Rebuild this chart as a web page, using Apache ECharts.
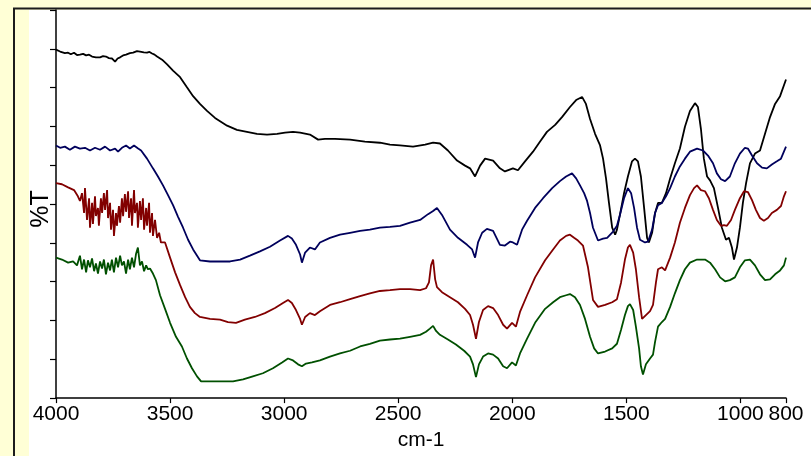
<!DOCTYPE html>
<html><head><meta charset="utf-8">
<script src="https://cdn.jsdelivr.net/npm/echarts@6/dist/echarts.min.js"></script>
<style>html,body{margin:0;padding:0;background:#ffffd6}#c{width:811px;height:456px}</style>
</head><body><div id="c"></div><script>
const xTicks = [4000, 3500, 3000, 2500, 2000, 1500, 1000, 800];
const xName = 'cm-1';
const yName = '%T';

const blackData = [[4000,89.8],[3982,89.3],[3974,89.5],[3961,88.9],[3947,89.0],[3935,88.6],[3921,89.0],[3908,88.4],[3895,88.5],[3881,88.7],[3868,88.3],[3855,88.5],[3842,88.0],[3825,87.8],[3807,87.8],[3794,88.1],[3781,88.0],[3768,87.6],[3754,87.5],[3741,86.7],[3730,87.5],[3719,87.8],[3706,88.3],[3693,88.5],[3676,88.9],[3662,89.0],[3645,89.4],[3632,89.3],[3615,89.1],[3601,89.0],[3590,89.2],[3579,88.8],[3568,88.5],[3557,88.0],[3535,87.2],[3513,86.0],[3487,84.4],[3456,82.7],[3426,80.1],[3399,77.8],[3369,75.8],[3338,74.0],[3303,72.2],[3250,70.2],[3207,69.1],[3163,68.6],[3119,68.1],[3075,67.9],[3031,68.1],[2996,68.4],[2961,68.6],[2930,68.4],[2887,67.9],[2851,66.6],[2821,66.8],[2777,66.8],[2711,66.6],[2646,66.1],[2580,65.8],[2536,65.3],[2492,65.1],[2435,64.8],[2382,65.3],[2347,65.8],[2317,65.6],[2282,63.8],[2242,61.2],[2207,59.9],[2185,59.2],[2163,57.1],[2141,59.9],[2119,61.7],[2084,61.2],[2054,59.2],[2032,58.4],[1997,59.2],[1975,58.7],[1944,61.0],[1909,63.5],[1878,66.1],[1848,68.6],[1812,70.4],[1782,72.4],[1747,75.0],[1720,76.8],[1694,77.6],[1677,75.8],[1659,71.9],[1637,68.1],[1615,65.1],[1602,61.7],[1589,56.6],[1576,50.3],[1562,43.9],[1549,42.1],[1541,43.4],[1528,47.2],[1510,52.8],[1493,57.1],[1475,61.0],[1462,61.7],[1449,61.0],[1436,57.1],[1422,49.0],[1409,41.3],[1401,40.1],[1387,42.6],[1374,47.7],[1361,50.3],[1344,50.3],[1326,52.8],[1308,56.6],[1287,60.5],[1265,64.3],[1243,69.9],[1221,74.0],[1199,76.0],[1186,75.0],[1173,69.4],[1160,61.7],[1146,57.1],[1133,56.1],[1116,54.1],[1098,49.0],[1081,43.9],[1063,40.8],[1050,41.3],[1037,38.8],[1028,35.7],[1015,38.8],[1002,43.9],[989,50.3],[975,55.4],[958,60.5],[936,63.0],[914,63.8],[892,68.1],[870,72.4],[848,75.8],[826,77.8],[800,82.1]];

const blueData = [[4000,65.1],[3982,64.5],[3961,64.8],[3939,64.0],[3917,64.8],[3895,64.3],[3873,64.5],[3851,63.8],[3829,64.5],[3807,64.0],[3785,64.8],[3763,63.8],[3741,64.3],[3728,63.5],[3711,64.5],[3693,65.1],[3676,64.3],[3658,65.1],[3640,64.3],[3627,63.8],[3601,61.7],[3575,59.2],[3553,57.1],[3531,54.8],[3509,52.3],[3487,49.7],[3465,46.7],[3443,43.9],[3421,40.8],[3399,38.3],[3369,35.5],[3325,35.2],[3281,35.2],[3237,35.2],[3193,35.7],[3150,36.7],[3106,37.8],[3062,39.0],[3018,40.6],[2983,41.8],[2966,41.1],[2948,39.5],[2930,37.0],[2922,34.9],[2908,37.5],[2887,38.8],[2865,38.3],[2843,40.1],[2799,41.3],[2755,42.1],[2711,42.6],[2667,43.1],[2624,43.4],[2580,43.9],[2536,44.1],[2492,44.4],[2448,45.2],[2404,45.9],[2369,47.4],[2347,48.2],[2330,49.0],[2308,47.2],[2273,43.4],[2238,41.3],[2198,39.5],[2176,38.3],[2163,36.2],[2150,40.1],[2132,42.6],[2111,43.6],[2084,43.1],[2054,39.5],[2032,39.3],[2010,40.3],[1997,40.1],[1979,39.5],[1957,43.4],[1935,45.7],[1900,49.0],[1865,51.5],[1825,54.1],[1791,55.9],[1764,57.1],[1738,57.9],[1720,56.6],[1703,54.8],[1685,52.8],[1672,50.8],[1659,47.7],[1646,43.9],[1624,40.6],[1602,41.1],[1584,41.3],[1558,42.9],[1541,44.4],[1528,47.2],[1510,51.5],[1493,54.1],[1479,52.8],[1466,49.0],[1453,43.9],[1440,40.8],[1418,40.1],[1405,40.3],[1387,43.4],[1374,47.7],[1361,49.7],[1344,50.3],[1326,52.0],[1308,54.1],[1287,57.1],[1265,59.7],[1243,61.7],[1221,63.5],[1190,64.3],[1164,63.8],[1142,62.5],[1120,60.5],[1103,57.9],[1085,56.4],[1067,55.9],[1046,57.1],[1024,60.5],[1002,63.0],[980,64.5],[967,64.3],[949,62.5],[927,60.5],[905,59.4],[884,59.2],[862,60.2],[840,61.0],[822,61.7],[800,64.8]];

const redData = [[4000,55.4],[3974,55.1],[3947,54.3],[3921,53.6],[3904,52.0],[3895,50.8],[3886,52.8],[3877,47.7],[3873,54.1],[3864,45.9],[3855,51.5],[3851,43.9],[3842,50.3],[3838,44.9],[3829,52.0],[3825,46.9],[3816,49.0],[3812,44.4],[3803,51.5],[3798,47.7],[3790,52.8],[3785,48.5],[3776,53.6],[3772,46.4],[3763,50.3],[3759,43.4],[3750,48.5],[3746,41.8],[3737,47.7],[3733,44.4],[3724,49.5],[3719,45.2],[3711,51.5],[3706,46.9],[3698,52.6],[3693,48.0],[3684,53.3],[3680,46.4],[3671,51.5],[3667,44.4],[3658,53.6],[3654,47.7],[3645,50.3],[3641,43.9],[3632,50.8],[3627,45.9],[3619,51.5],[3614,43.4],[3605,49.0],[3601,44.4],[3592,50.3],[3588,42.6],[3579,47.7],[3575,41.8],[3566,45.9],[3557,41.3],[3548,42.6],[3540,40.1],[3522,40.1],[3500,36.2],[3478,32.4],[3456,29.1],[3434,26.0],[3413,23.5],[3391,21.9],[3369,20.9],[3325,20.4],[3281,20.2],[3246,19.6],[3211,19.4],[3172,20.2],[3128,20.9],[3084,21.9],[3040,23.2],[3005,24.5],[2983,25.3],[2966,24.5],[2948,22.7],[2930,20.4],[2922,18.9],[2908,20.9],[2887,21.9],[2865,21.4],[2843,22.4],[2799,24.0],[2755,24.7],[2711,25.5],[2667,26.3],[2624,27.0],[2580,27.6],[2536,27.8],[2492,28.1],[2448,28.1],[2404,27.8],[2378,28.3],[2365,29.8],[2356,34.2],[2347,35.7],[2338,30.6],[2330,28.6],[2308,27.3],[2273,26.0],[2238,24.7],[2207,23.0],[2185,21.4],[2172,18.9],[2159,15.3],[2146,19.6],[2128,22.7],[2106,23.7],[2084,23.2],[2062,21.4],[2040,18.9],[2023,17.9],[2001,19.4],[1984,18.4],[1966,22.2],[1935,26.5],[1900,31.1],[1856,35.5],[1821,38.3],[1791,40.6],[1764,41.8],[1747,42.1],[1729,41.3],[1712,40.6],[1690,39.3],[1668,33.7],[1646,25.3],[1624,23.5],[1593,24.0],[1562,24.7],[1541,25.5],[1523,29.8],[1506,35.7],[1493,38.8],[1484,39.5],[1470,37.5],[1458,33.2],[1444,26.0],[1431,20.4],[1414,21.4],[1396,22.4],[1383,24.0],[1370,29.8],[1361,33.2],[1344,33.7],[1330,32.9],[1308,36.2],[1287,40.1],[1265,45.2],[1243,49.0],[1221,52.3],[1203,54.1],[1190,54.8],[1173,53.6],[1155,53.3],[1138,51.5],[1120,48.5],[1103,45.9],[1085,44.4],[1072,44.6],[1059,44.4],[1041,45.9],[1024,48.5],[1002,51.5],[984,53.3],[967,53.1],[949,51.0],[932,48.5],[914,46.4],[897,45.7],[879,46.4],[862,47.7],[840,48.5],[822,49.5],[809,52.0],[800,53.3]];

const greenData = [[4000,36.2],[3974,35.7],[3947,34.9],[3925,35.2],[3908,34.2],[3895,36.7],[3886,33.2],[3877,35.7],[3868,32.4],[3860,35.5],[3851,33.7],[3842,36.0],[3833,32.7],[3825,34.7],[3816,32.1],[3807,35.2],[3798,33.4],[3790,35.7],[3781,31.9],[3772,34.9],[3763,32.9],[3755,35.7],[3746,32.4],[3737,36.2],[3728,33.7],[3719,36.7],[3711,34.2],[3702,35.2],[3693,32.1],[3684,35.7],[3676,33.2],[3667,36.2],[3658,33.7],[3649,37.2],[3641,38.8],[3632,34.2],[3623,35.2],[3614,32.7],[3605,34.2],[3597,33.2],[3588,33.4],[3575,32.1],[3562,30.4],[3544,26.5],[3522,23.0],[3500,19.4],[3474,15.8],[3448,13.3],[3426,10.2],[3404,7.7],[3382,5.6],[3364,4.3],[3325,4.3],[3281,4.3],[3224,4.3],[3180,4.8],[3137,5.6],[3093,6.4],[3049,7.7],[3009,9.2],[2983,10.2],[2961,9.7],[2939,8.7],[2922,8.2],[2904,8.9],[2878,9.2],[2843,9.7],[2799,10.7],[2755,11.5],[2711,12.2],[2667,13.3],[2624,14.0],[2580,14.8],[2536,15.1],[2492,15.3],[2448,15.8],[2404,16.3],[2378,17.1],[2361,17.9],[2347,18.6],[2334,17.3],[2317,16.3],[2282,15.1],[2247,13.8],[2211,12.2],[2185,10.7],[2172,8.7],[2159,5.4],[2146,8.7],[2128,10.7],[2106,11.5],[2084,11.2],[2062,10.2],[2040,8.2],[2023,7.7],[2001,9.2],[1984,8.4],[1966,11.5],[1935,15.3],[1900,19.4],[1856,23.0],[1821,24.7],[1791,26.0],[1764,26.5],[1747,26.8],[1725,26.0],[1703,24.0],[1681,20.4],[1659,15.8],[1641,12.8],[1624,11.5],[1593,12.0],[1562,12.8],[1541,14.0],[1523,17.6],[1506,21.4],[1493,23.7],[1484,24.2],[1470,22.7],[1458,18.4],[1444,12.8],[1436,8.2],[1427,6.1],[1414,8.7],[1396,10.2],[1383,11.2],[1374,14.5],[1361,18.4],[1344,19.6],[1330,20.4],[1308,23.5],[1287,27.0],[1265,30.4],[1243,33.2],[1221,34.9],[1190,35.7],[1155,35.7],[1133,34.9],[1111,33.2],[1089,31.1],[1067,30.1],[1046,30.4],[1024,31.1],[1002,33.7],[980,35.5],[958,35.7],[936,34.2],[914,31.9],[892,30.4],[870,30.6],[848,31.9],[826,32.9],[809,34.2],[800,36.2]];

const seriesList = [
  {name: 'black', data: blackData, color: '#000000'},
  {name: 'blue', data: blueData, color: '#00005c'},
  {name: 'red', data: redData, color: '#820000'},
  {name: 'green', data: greenData, color: '#005000'}
];

const chart = echarts.init(document.getElementById('c'), null, {renderer: 'canvas'});
chart.setOption({
  animation: false,
  backgroundColor: '#ffffd6',
  graphic: [
    {type: 'rect', z: -10, silent: true, shape: {x: 14, y: 8.5, width: 820, height: 470}, style: {fill: '#ffffd6', stroke: '#1c1c1c', lineWidth: 2}},
    {type: 'rect', z: -9, silent: true, shape: {x: 29, y: 10, width: 800, height: 460}, style: {fill: '#ffffff'}}
  ],
  grid: {left: 56, right: 25, top: 10, bottom: 54},
  xAxis: {
    type: 'value', inverse: true, min: 800, max: 4000,
    name: xName, nameLocation: 'middle', nameGap: 31,
    nameTextStyle: {color: '#000', fontSize: 21, fontFamily: 'Liberation Sans'},
    axisLine: {lineStyle: {color: '#000', width: 1.5}},
    axisTick: {customValues: xTicks, length: 5, lineStyle: {color: '#000', width: 1.2}},
    axisLabel: {customValues: xTicks, color: '#000', fontSize: 21, fontFamily: 'Liberation Sans', margin: 6,
      formatter: v => String(v)},
    splitLine: {show: false}
  },
  yAxis: {
    type: 'value', min: 0, max: 100, interval: 10,
    name: yName, nameLocation: 'middle', nameGap: 2,
    nameTextStyle: {color: '#000', fontSize: 25, fontFamily: 'Liberation Sans', padding: [0, 10, 0, 0]},
    axisLine: {lineStyle: {color: '#000', width: 1.5}},
    axisTick: {length: 6, lineStyle: {color: '#000', width: 1.2}},
    axisLabel: {show: false},
    splitLine: {show: false}
  },
  series: seriesList.map(s => ({
    type: 'line', name: s.name, data: s.data, showSymbol: false, symbol: 'none',
    lineStyle: {color: s.color, width: 1.8}, itemStyle: {color: s.color}
  }))
});
</script></body></html>
